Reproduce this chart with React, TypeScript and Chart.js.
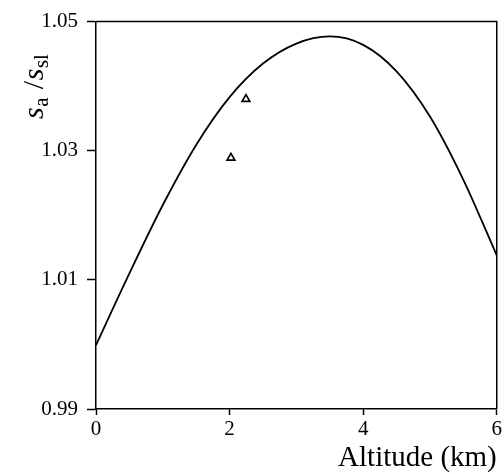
import React, { useEffect, useRef } from "react";
import { Chart, registerables } from "chart.js";

Chart.register(...registerables);

const altitude = [0, 0.5, 1.0, 1.5, 2.0, 2.5, 3.0, 3.5, 4.0, 4.5, 5.0, 5.5, 6.0];
const ratio = [0.9999, 1.011, 1.0216, 1.0309, 1.0383, 1.0435, 1.0466, 1.0477, 1.0464, 1.0423, 1.0353, 1.0255, 1.0138];

const obsAltitude = [2.02, 2.245];
const obsRatio = [1.0289, 1.038];

const xTicks = [0, 2, 4, 6];
const yTicks = [0.99, 1.01, 1.03, 1.05];

const SERIF = '"Liberation Serif", "Times New Roman", serif';

const framePlugin = {
  id: "frame",
  afterDraw(chart: any) {
    const { ctx, chartArea } = chart;
    ctx.save();
    ctx.strokeStyle = "#000";
    ctx.lineWidth = 1.5;
    ctx.beginPath();
    ctx.moveTo(chartArea.left, chartArea.top);
    ctx.lineTo(chartArea.right, chartArea.top);
    ctx.lineTo(chartArea.right, chartArea.bottom);
    ctx.stroke();
    ctx.restore();

    // y-axis title: s_a / s_sl
    ctx.save();
    ctx.translate(43, 119);
    ctx.rotate(-Math.PI / 2);
    ctx.fillStyle = "#000";
    ctx.textAlign = "left";
    ctx.textBaseline = "alphabetic";
    const parts = [
      { t: "s", f: `italic 30px ${SERIF}`, dy: 0 },
      { t: "a", f: `21px ${SERIF}`, dy: 5 },
      { t: " /", f: `30px ${SERIF}`, dy: 0 },
      { t: "s", f: `italic 30px ${SERIF}`, dy: 0 },
      { t: "sl", f: `21px ${SERIF}`, dy: 5 },
    ];
    let x = 0;
    for (const p of parts) {
      ctx.font = p.f;
      ctx.fillText(p.t, x, p.dy);
      x += ctx.measureText(p.t).width + 0.6;
    }
    ctx.restore();
  },
};

export default function App() {
  const ref = useRef<HTMLCanvasElement>(null);

  useEffect(() => {
    if (!ref.current) return;
    const chart = new Chart(ref.current, {
      type: "scatter",
      data: {
        datasets: [
          {
            type: "line",
            data: altitude.map((a, i) => ({ x: a, y: ratio[i] })),
            borderColor: "#000",
            borderWidth: 1.8,
            pointRadius: 0,
            cubicInterpolationMode: "monotone",
            fill: false,
          } as any,
          {
            type: "scatter",
            data: obsAltitude.map((a, i) => ({ x: a, y: obsRatio[i] })),
            pointStyle: "triangle",
            pointRadius: 4.5,
            borderColor: "#000",
            backgroundColor: "#fff",
            borderWidth: 1.7,
          },
        ],
      },
      options: {
        responsive: false,
        animation: false,
        layout: { padding: { left: 0, right: 7, top: 20, bottom: 0 } },
        plugins: { legend: { display: false }, tooltip: { enabled: false } },
        scales: {
          x: {
            type: "linear",
            min: 0,
            max: 6,
            afterBuildTicks: (s: any) => {
              s.ticks = xTicks.map((v) => ({ value: v }));
            },
            afterFit: (s: any) => {
              s.height = 65;
            },
            grid: {
              drawOnChartArea: false,
              drawTicks: true,
              tickLength: 6,
              tickColor: "#000",
              tickWidth: 1.5,
            },
            border: { display: true, color: "#000", width: 1.5 },
            ticks: {
              color: "#000",
              font: { family: SERIF, size: 21 },
              padding: 2,
              maxRotation: 0,
              callback: (v: any) => String(v),
            },
            title: {
              display: true,
              text: "Altitude (km)",
              align: "end",
              color: "#000",
              font: { family: SERIF, size: 29, lineHeight: 1.05 },
              padding: { top: 0, bottom: 0 },
            },
          },
          y: {
            type: "linear",
            min: 0.99,
            max: 1.05,
            afterBuildTicks: (s: any) => {
              s.ticks = yTicks.map((v) => ({ value: v }));
            },
            afterFit: (s: any) => {
              s.width = 96;
            },
            grid: {
              drawOnChartArea: false,
              drawTicks: true,
              tickLength: 9,
              tickColor: "#000",
              tickWidth: 1.5,
            },
            border: { display: true, color: "#000", width: 1.5 },
            ticks: {
              color: "#000",
              font: { family: SERIF, size: 21 },
              padding: 9,
              callback: (v: any) => Number(v).toFixed(2),
            },
          },
        },
      },
      plugins: [framePlugin],
    });
    return () => chart.destroy();
  }, []);

  return (
    <div style={{ position: "absolute", left: 0, top: 0, width: 504, height: 474, background: "#fff" }}>
      <canvas ref={ref} width={504} height={474} />
    </div>
  );
}
